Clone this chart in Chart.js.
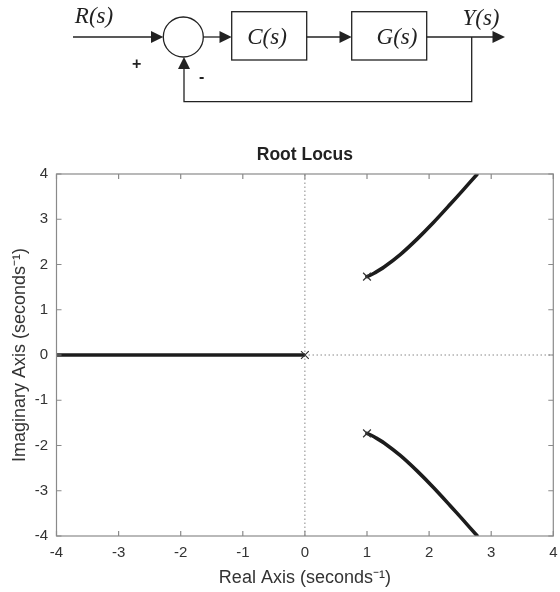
<!DOCTYPE html>
<html>
<head>
<meta charset="utf-8">
<script src="https://cdn.jsdelivr.net/npm/chart.js@4/dist/chart.umd.min.js"></script>
<style>
  html, body { margin: 0; padding: 0; background: #fff; }
  #wrap { position: relative; width: 560px; height: 592px; }
  #chartBox { position: absolute; left: 0; top: 0; width: 560px; height: 592px; }
  #diagram { position: absolute; left: 0; top: 0; }
  #diagram text.lbl { font-family: 'Liberation Serif', 'Times New Roman', serif; font-style: italic; font-size: 23px; fill: #222; }
  #diagram text.sign { font-family: 'Liberation Sans', Arial, sans-serif; font-weight: bold; font-size: 16px; fill: #222; }
</style>
</head>
<body>
<div id="wrap">
  <div id="chartBox"><canvas id="c"></canvas></div>
  <svg id="diagram" width="560" height="120" xmlns="http://www.w3.org/2000/svg">
    <g stroke="#222" stroke-width="1.3" fill="none">
      <line x1="73" y1="37" x2="152" y2="37"/>
      <circle cx="183.3" cy="37" r="20"/>
      <line x1="203.3" y1="37" x2="221" y2="37"/>
      <rect x="231.7" y="11.7" width="75" height="48.3"/>
      <line x1="306.7" y1="37" x2="341" y2="37"/>
      <rect x="351.7" y="11.7" width="75" height="48.3"/>
      <line x1="426.7" y1="37" x2="494" y2="37"/>
      <polyline points="471.7,37 471.7,101.7 184,101.7 184,68"/>
    </g>
    <g fill="#222" stroke="none">
      <polygon points="163.3,37 151,31 151,43"/>
      <polygon points="231.7,37 219.5,31 219.5,43"/>
      <polygon points="351.7,37 339.5,31 339.5,43"/>
      <polygon points="505,37 492.5,31 492.5,43"/>
      <polygon points="184,57 178,69 190,69"/>
    </g>
    <text class="lbl" x="94" y="23" text-anchor="middle">R(s)</text>
    <text class="lbl" x="267" y="44" text-anchor="middle">C(s)</text>
    <text class="lbl" x="397" y="44" text-anchor="middle">G(s)</text>
    <text class="lbl" x="481" y="25" text-anchor="middle">Y(s)</text>
    <text class="sign" x="136.7" y="69" text-anchor="middle">+</text>
    <text class="sign" x="201.7" y="82" text-anchor="middle">-</text>
  </svg>
</div>
<script>
// ---- data ----
const axisTicks = [-4, -3, -2, -1, 0, 1, 2, 3, 4];
const realBranchX = [-4, -3, -2, -1, 0];
const realBranchY = [0, 0, 0, 0, 0];
const upperBranchX = [1.0, 1.06, 1.12, 1.27, 1.54, 1.81, 2.07, 2.34, 2.55, 2.77];
const upperBranchY = [1.732, 1.768, 1.812, 1.938, 2.225, 2.567, 2.928, 3.33, 3.65, 3.99];
const lowerBranchX = [1.0, 1.06, 1.12, 1.27, 1.54, 1.81, 2.07, 2.34, 2.55, 2.77];
const lowerBranchY = [-1.732, -1.768, -1.812, -1.938, -2.225, -2.567, -2.928, -3.33, -3.65, -3.99];
const poleX = [0, 1, 1];
const poleY = [0, 1.732, -1.732];
const zeroLineX = [-4, 4];
const vertLineY = [-4, 4];

const toPts = (xs, ys) => xs.map((x, i) => ({ x: x, y: ys[i] }));

Chart.defaults.font.family = "'Liberation Sans', Arial, Helvetica, sans-serif";
Chart.defaults.color = '#333';

const AXIS_COLOR = '#8a8a8a';

const boxPlugin = {
  id: 'boxTicks',
  afterLayout(chart) {
    const tb = chart.titleBlock;
    if (tb) {
      tb.left = chart.chartArea.left;
      tb.right = chart.chartArea.right;
      tb.width = tb.right - tb.left;
    }
  },
  afterDatasetsDraw(chart) {
    const { ctx, chartArea: a, scales } = chart;
    ctx.save();
    ctx.strokeStyle = AXIS_COLOR;
    ctx.lineWidth = 1.2;
    ctx.strokeRect(a.left, a.top, a.right - a.left, a.bottom - a.top);
    ctx.beginPath();
    const tl = 5;
    axisTicks.forEach(v => {
      const px = scales.x.getPixelForValue(v);
      ctx.moveTo(px, a.bottom); ctx.lineTo(px, a.bottom - tl);
      ctx.moveTo(px, a.top); ctx.lineTo(px, a.top + tl);
      const py = scales.y.getPixelForValue(v);
      ctx.moveTo(a.left, py); ctx.lineTo(a.left + tl, py);
      ctx.moveTo(a.right, py); ctx.lineTo(a.right - tl, py);
    });
    ctx.stroke();
    ctx.restore();
  }
};

const lineStyle = { showLine: true, borderColor: '#1c1c1c', borderWidth: 3.6, pointRadius: 0, fill: false, tension: 0.3, borderCapStyle: 'round' };

new Chart(document.getElementById('c'), {
  type: 'scatter',
  data: {
    datasets: [
      { data: toPts(realBranchX, realBranchY), ...lineStyle, tension: 0, borderCapStyle: 'butt', order: 2 },
      { data: toPts(upperBranchX, upperBranchY), ...lineStyle, order: 2 },
      { data: toPts(lowerBranchX, lowerBranchY), ...lineStyle, order: 2 },
      { data: toPts(poleX, poleY), showLine: false, pointStyle: 'crossRot', pointRadius: 5.5, borderColor: '#333', borderWidth: 1.2, order: 1 },
      { data: toPts(zeroLineX, [0, 0]), showLine: true, borderColor: '#888', borderWidth: 1, borderDash: [1.5, 2.5], pointRadius: 0, order: 10 },
      { data: toPts([0, 0], vertLineY), showLine: true, borderColor: '#888', borderWidth: 1, borderDash: [1.5, 2.5], pointRadius: 0, order: 10 }
    ]
  },
  options: {
    responsive: true,
    maintainAspectRatio: false,
    animation: false,
    events: [],
    layout: { padding: { top: 140, left: 0, right: 3, bottom: 0 } },
    plugins: {
      legend: { display: false },
      tooltip: { enabled: false },
      title: {
        display: true,
        text: 'Root Locus',
        color: '#222',
        font: { size: 17.5, weight: 'bold' },
        padding: { top: 4.4, bottom: 8.6 }
      }
    },
    scales: {
      x: {
        type: 'linear', min: -4, max: 4,
        afterBuildTicks: s => { s.ticks = axisTicks.map(v => ({ value: v })); },
        ticks: { font: { size: 15 }, color: '#333', padding: 8 },
        grid: { display: false, drawTicks: false },
        border: { display: false },
        title: { display: true, text: 'Real Axis (seconds\u207B\u00B9)', color: '#333', font: { size: 18 }, padding: { top: 0, bottom: 3.2 } },
        afterFit: s => { s.height = 56; s.paddingLeft = 0; s.paddingRight = 0; }
      },
      y: {
        type: 'linear', min: -4, max: 4,
        afterBuildTicks: s => { s.ticks = axisTicks.map(v => ({ value: v })); },
        ticks: { font: { size: 15 }, color: '#333', padding: 8.5 },
        grid: { display: false, drawTicks: false },
        border: { display: false },
        title: { display: true, text: 'Imaginary Axis (seconds\u207B\u00B9)', color: '#333', font: { size: 18 }, padding: { top: 9.7, bottom: 0 } },
        afterFit: s => { s.width = 56.5; s.paddingTop = 0; s.paddingBottom = 0; }
      }
    }
  },
  plugins: [boxPlugin]
});
</script>
</body>
</html>
